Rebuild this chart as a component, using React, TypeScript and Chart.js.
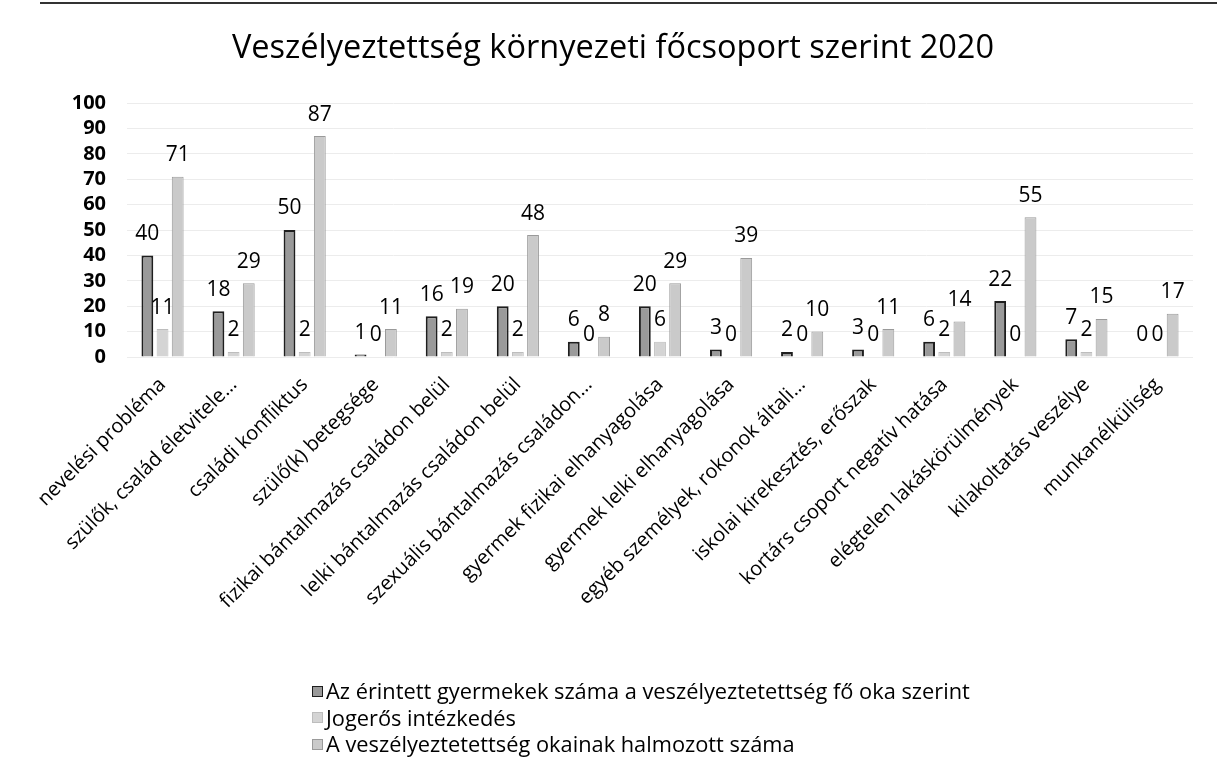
import React, { useEffect, useRef } from "react";
import { Chart, registerables } from "chart.js";

Chart.register(...registerables);

const categories = [
  "nevelési probléma",
  "szülők, család életvitele…",
  "családi konfliktus",
  "szülő(k) betegsége",
  "fizikai bántalmazás családon belül",
  "lelki bántalmazás családon belül",
  "szexuális bántalmazás családon…",
  "gyermek fizikai elhanyagolása",
  "gyermek lelki elhanyagolása",
  "egyéb személyek, rokonok általi…",
  "iskolai kirekesztés, erőszak",
  "kortárs csoport negatív hatása",
  "elégtelen lakáskörülmények",
  "kilakoltatás veszélye",
  "munkanélküliség",
];

const seriesNames = [
  "Az érintett gyermekek száma a veszélyeztetettség fő oka szerint",
  "Jogerős intézkedés",
  "A veszélyeztetettség okainak halmozott száma",
];

const affectedChildren = [40, 18, 50, 1, 16, 20, 6, 20, 3, 2, 3, 6, 22, 7, 0];
const finalMeasures = [11, 2, 2, 0, 2, 2, 0, 6, 0, 0, 0, 2, 0, 2, 0];
const cumulativeCauses = [71, 29, 87, 11, 19, 48, 8, 29, 39, 10, 11, 14, 55, 15, 17];

const yTicks = [0, 10, 20, 30, 40, 50, 60, 70, 80, 90, 100];

const fills = ["#9a9a9a", "#d4d4d4", "#cacaca"];
const borders = ["#1e1e1e", "#bdbdbd", "#9a9a9a"];

const FONT = "'Open Sans', 'DejaVu Sans', sans-serif";

const valueLabels = {
  id: "valueLabels",
  afterDatasetsDraw(chart: any) {
    const ctx = chart.ctx;
    ctx.save();
    ctx.font = `21px ${FONT}`;
    ctx.fillStyle = "#000";
    ctx.textAlign = "center";
    ctx.textBaseline = "bottom";
    chart.data.datasets.forEach((ds: any, di: number) => {
      const meta = chart.getDatasetMeta(di);
      meta.data.forEach((el: any, i: number) => {
        const v = ds.data[i];
        ctx.fillText(String(v), el.x, el.y - 11);
      });
    });
    ctx.restore();
  },
};

export default function App() {
  const ref = useRef<HTMLCanvasElement | null>(null);

  useEffect(() => {
    document.body.style.margin = "0";
    if (!ref.current) return;
    const chart = new Chart(ref.current, {
      type: "bar",
      data: {
        labels: categories,
        datasets: [affectedChildren, finalMeasures, cumulativeCauses].map((d, i) => ({
          label: seriesNames[i],
          data: d,
          backgroundColor: fills[i],
          borderColor: borders[i],
          borderWidth: i === 0 ? 2 : 1,
          categoryPercentage: 0.64,
          barPercentage: 0.78,
        })),
      },
      options: {
        animation: false,
        responsive: false,
        maintainAspectRatio: false,
        layout: { padding: { top: 17, left: 33, right: 24, bottom: 120 } },
        plugins: {
          legend: { display: false },
          tooltip: { enabled: false },
          title: {
            display: true,
            text: "Veszélyeztettség környezeti főcsoport szerint 2020",
            color: "#000",
            font: { family: FONT, size: 32.5, weight: "normal" },
            padding: { top: 12, bottom: 35 },
          },
        },
        scales: {
          x: {
            grid: { display: false },
            border: { display: false },
            ticks: {
              color: "#000",
              font: { family: FONT, size: 20 },
              maxRotation: 45,
              minRotation: 45,
              autoSkip: false,
              padding: 8,
            },
            afterFit: (scale: any) => {
              scale.height = 306;
            },
          },
          y: {
            min: 0,
            max: 100,
            afterBuildTicks: (scale: any) => {
              scale.ticks = yTicks.map((v) => ({ value: v }));
            },
            afterFit: (scale: any) => {
              scale.width = 94;
            },
            grid: { color: "#ececec", drawTicks: false },
            border: { display: false },
            ticks: {
              color: "#000",
              font: { family: FONT, size: 20, weight: "bold" },
              padding: 21,
              autoSkip: false,
            },
          },
        },
      },
      plugins: [valueLabels],
    });
    return () => chart.destroy();
  }, []);

  return (
    <div style={{ position: "fixed", left: 0, top: 0, width: 1217, height: 783, background: "#fff", overflow: "hidden" }}>
      <div style={{ position: "absolute", left: 40, right: 0, top: 2, height: 2, background: "#333" }} />
      <canvas ref={ref} width={1217} height={783} style={{ position: "absolute", left: 0, top: 0 }} />
      <div
        style={{
          position: "absolute",
          left: 312,
          top: 678,
          fontFamily: FONT,
          fontSize: 21.8,
          color: "#000",
          lineHeight: "26.5px",
          letterSpacing: "0px",
        }}
      >
        {seriesNames.map((n, i) => (
          <div key={n} style={{ display: "flex", alignItems: "center", height: 26.5 }}>
            <span
              style={{
                display: "inline-block",
                width: 9,
                height: 9,
                background: fills[i],
                border: `1px solid ${borders[i]}`,
                marginRight: 3,
              }}
            />
            {n}
          </div>
        ))}
      </div>
    </div>
  );
}
